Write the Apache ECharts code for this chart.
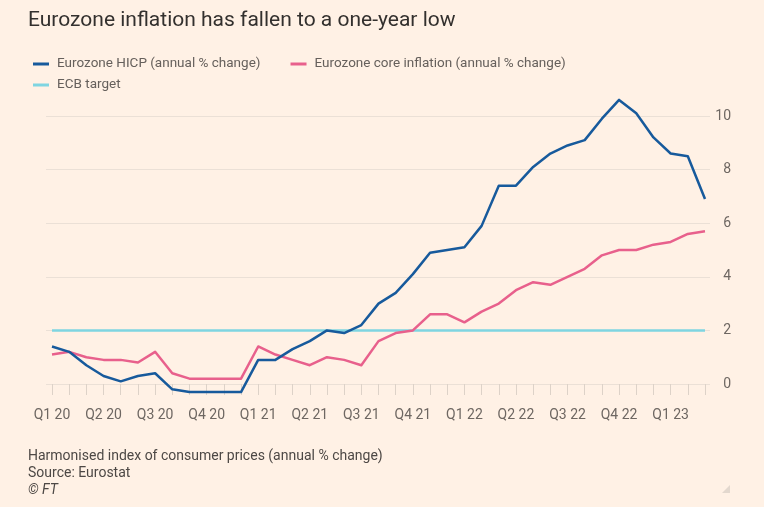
<!DOCTYPE html>
<html>
<head>
<meta charset="utf-8">
<script src="https://cdn.jsdelivr.net/npm/echarts@6/dist/echarts.min.js"></script>
<style>
  html, body { margin: 0; padding: 0; background: #fff1e5; }
  #main { width: 764px; height: 507px; }
</style>
</head>
<body>
<div id="main"></div>
<script>
// monthly, Jan 2020 - Mar 2023
const months = []
for (let y = 2020; y <= 2023; y++) {
  for (let m = 1; m <= 12; m++) {
    if (y === 2023 && m > 3) break
    months.push(`${y}-${String(m).padStart(2, '0')}`)
  }
}

const hicp = [
  1.4, 1.2, 0.7, 0.3, 0.1, 0.3, 0.4, -0.2, -0.3, -0.3, -0.3, -0.3,
  0.9, 0.9, 1.3, 1.6, 2.0, 1.9, 2.2, 3.0, 3.4, 4.1, 4.9, 5.0,
  5.1, 5.9, 7.4, 7.4, 8.1, 8.6, 8.9, 9.1, 9.9, 10.6, 10.1, 9.2,
  8.6, 8.5, 6.9
]
const core = [
  1.1, 1.2, 1.0, 0.9, 0.9, 0.8, 1.2, 0.4, 0.2, 0.2, 0.2, 0.2,
  1.4, 1.1, 0.9, 0.7, 1.0, 0.9, 0.7, 1.6, 1.9, 2.0, 2.6, 2.6,
  2.3, 2.7, 3.0, 3.5, 3.8, 3.7, 4.0, 4.3, 4.8, 5.0, 5.0, 5.2,
  5.3, 5.6, 5.7
]
const ecbTarget = months.map(() => 2)

const yTicks = [0, 2, 4, 6, 8, 10]

function quarterLabel(key) {
  const [y, m] = key.split('-').map(Number)
  return `Q${Math.floor((m - 1) / 3) + 1} ${String(y).slice(2)}`
}

const font = 'Roboto'
const chart = echarts.init(document.getElementById('main'))

chart.setOption({
  backgroundColor: '#fff1e5',
  animation: false,
  title: {
    text: 'Eurozone inflation has fallen to a one-year low',
    left: 23,
    top: 5,
    textStyle: { fontFamily: font, fontSize: 21, fontWeight: 'normal', color: '#33302e' }
  },
  legend: [
    {
      data: ['Eurozone HICP (annual % change)', 'Eurozone core inflation (annual % change)'],
      left: 28, top: 52,
      icon: 'rect', itemWidth: 16, itemHeight: 3, itemGap: 30,
      textStyle: { fontFamily: font, fontSize: 13.5, color: '#66605c', padding: [0, 0, 0, 3] }
    },
    {
      data: ['ECB target'],
      left: 28, top: 73,
      icon: 'rect', itemWidth: 16, itemHeight: 3,
      textStyle: { fontFamily: font, fontSize: 13.5, color: '#66605c', padding: [0, 0, 0, 3] }
    }
  ],
  grid: [
    // gridlines + y labels
    { left: 46, right: 54, top: 116, bottom: 123 },
    // data
    { left: 52, right: 59, top: 116, bottom: 123 }
  ],
  xAxis: [
    { gridIndex: 0, type: 'category', data: months, show: false },
    {
      gridIndex: 1,
      type: 'category',
      data: months,
      boundaryGap: false,
      offset: 8,
      axisLine: { show: false },
      axisTick: { show: true, interval: 0, length: 11, lineStyle: { color: '#ddd2c8' } },
      axisLabel: {
        interval: 2,
        margin: 16,
        fontFamily: font,
        fontSize: 14,
        color: '#6e6762',
        formatter: quarterLabel
      }
    }
  ],
  yAxis: [
    {
      gridIndex: 0,
      type: 'value',
      position: 'right',
      min: yTicks[0],
      max: yTicks[yTicks.length - 1],
      interval: 2,
      axisLine: { show: false },
      axisTick: { show: false },
      splitLine: { lineStyle: { color: '#ebe0d6', width: 1 } },
      axisLabel: {
        align: 'right',
        margin: 21,
        fontFamily: font,
        fontSize: 14,
        color: '#6e6762'
      }
    },
    {
      gridIndex: 1,
      type: 'value',
      min: yTicks[0],
      max: yTicks[yTicks.length - 1],
      interval: 2,
      show: false
    }
  ],
  series: [
    {
      name: 'ECB target',
      type: 'line',
      xAxisIndex: 1, yAxisIndex: 1,
      data: ecbTarget,
      symbol: 'none',
      clip: false,
      itemStyle: { color: '#7fd5e1' },
      lineStyle: { color: '#7fd5e1', width: 2.5 }
    },
    {
      name: 'Eurozone core inflation (annual % change)',
      type: 'line',
      xAxisIndex: 1, yAxisIndex: 1,
      data: core,
      symbol: 'none',
      clip: false,
      itemStyle: { color: '#e8608c' },
      lineStyle: { color: '#e8608c', width: 2.5, join: 'round' }
    },
    {
      name: 'Eurozone HICP (annual % change)',
      type: 'line',
      xAxisIndex: 1, yAxisIndex: 1,
      data: hicp,
      symbol: 'none',
      clip: false,
      itemStyle: { color: '#175a9c' },
      lineStyle: { color: '#175a9c', width: 2.5, join: 'round' }
    }
  ],
  graphic: [
    {
      type: 'text', left: 28, top: 449,
      style: { text: 'Harmonised index of consumer prices (annual % change)', font: `14px ${font}`, fill: '#4d4845' }
    },
    {
      type: 'text', left: 28, top: 466,
      style: { text: 'Source: Eurostat', font: `14px ${font}`, fill: '#4d4845' }
    },
    {
      type: 'text', left: 28, top: 483,
      style: { text: '© FT', font: `italic 14px ${font}`, fill: '#4d4845' }
    },
    {
      type: 'polygon',
      shape: { points: [[730, 485], [730, 493], [722, 493]] },
      style: { fill: '#e3d8ce' }
    }
  ]
})
</script>
</body>
</html>
